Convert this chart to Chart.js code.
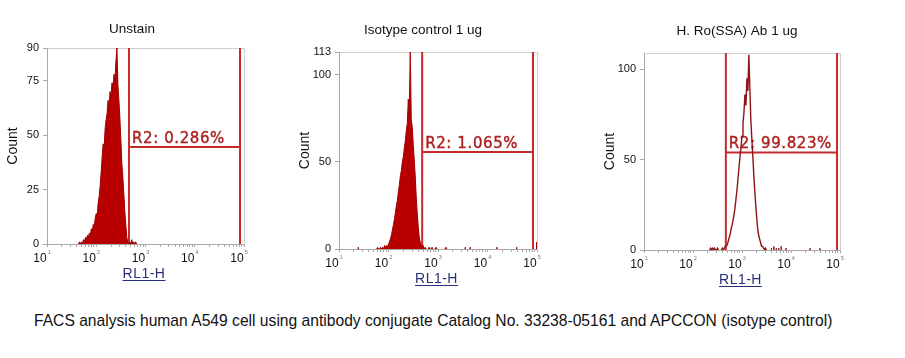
<!DOCTYPE html>
<html><head><meta charset="utf-8">
<script src="https://cdn.jsdelivr.net/npm/chart.js@4.4.0/dist/chart.umd.min.js"></script>
<style>
html,body{margin:0;padding:0;background:#fff;width:905px;height:358px;overflow:hidden;}
canvas{position:absolute;top:0;}
#cap{position:absolute;left:34px;top:311px;font:17px "Liberation Sans",Arial,sans-serif;line-height:20px;color:#111;white-space:nowrap;transform-origin:0 0;}
</style></head><body>
<canvas id="c1" width="270" height="300" style="left:0px"></canvas>
<canvas id="c2" width="270" height="300" style="left:292px"></canvas>
<canvas id="c3" width="270" height="300" style="left:597px"></canvas>
<div id="cap"></div>
<script>
// ---- data ----
const channels = [39.81,41.69,43.65,45.71,47.86,50.12,52.48,54.95,57.54,60.26,
 63.10,66.07,69.18,72.44,75.86,79.43,83.18,87.10,91.20,95.50,
 100,104.7,109.6,114.8,120.2,125.9,131.8,138.0,144.5,151.4,
 158.5,166.0,173.8,182.0,190.5,199.5,208.9,218.8,229.1,239.9,
 251.2,263.0,275.4,288.4,302.0,316.2,331.1,346.7,363.1,380.2,
 398.1,416.9,436.5,457.1,478.6,501.2,524.8,549.5,575.4,602.6,
 631.0,660.7,691.8,724.4,758.6,794.3,831.8,871.0,912.0,955.0,
 1000,1047,1096,1148,1202,1259,1318,1380,1445,1514,
 1585,1660,1738,1820,1905,1995,2089,2188,2291,2399,
 2512,2630,2754,2884,3020,3162];
const unstainCounts = [0,0,0,1,0,1,0,2,1,3,
 2,4,3,5,4,7,6,9,8,12,
 14,13,19,22,27,33,40,46,44,53,
 57,60,66,63,70,68,74,71,78,75,
 84,90,73,66,58,48,37,31,23,15,
 9,3,1,0,1,0,2,0,1,0,
 1,0,0,0,0,0,0,0,0,0,
 0,0,0,0,0,0,0,0,0,0,
 0,0,0,0,0,0,0,0,0,0,
 0,0,0,0,0,0];
const isotypeCounts = [0,0,0,0,0,0,0,0,0,1,
 0,0,1,0,1,0,2,1,2,1,
 3,4,6,8,11,14,17,21,25,28,
 33,37,42,45,50,53,58,62,68,72,
 86,78,113,74,70,60,51,42,30,21,
 13,7,4,2,1,2,0,1,0,0,
 0,1,0,0,1,0,0,0,1,0,
 0,0,0,0,0,0,0,0,1,0,
 0,0,0,0,0,0,0,0,0,0,
 0,0,0,0,0,0];
const roSsaCounts = [0,0,0,0,0,0,0,0,0,0,
 0,0,0,0,0,0,0,0,0,0,
 0,0,0,0,0,0,0,0,0,0,
 0,0,0,0,0,0,0,0,1,0,
 1,0,1,0,0,1,0,0,0,0,
 1,0,1,2,2,3,5,7,9,12,
 14,17,20,24,29,34,40,46,52,57,
 63,70,76,86,80,95,88,108,90,72,
 62,52,42,33,25,18,12,8,6,4,
 2,2,1,0,1,0];
const unstainEventX = [];
const unstainEventY = [];
const isotypeEventX = [24.5, 3550, 4470, 15500, 38900, 97700];
const isotypeEventY = [1, 1, 1, 1, 1, 4];
const roSsaEventX = [3980, 4470, 5010, 5620, 6310, 7940, 24500, 38900];
const roSsaEventY = [1, 2, 1, 1, 2, 1, 1, 1];

const panelTitles = ['Unstain', 'Isotype control 1 ug', 'H. Ro(SSA) Ab 1 ug'];
const gateLow = [462, 479, 468];
const gateHigh = [83000, 83000, 87000];
const gateLevel = [44.5, 55.6, 54];
const gateLabels = ['R2: 0.286%', 'R2: 1.065%', 'R2: 99.823%'];
const yMax = [90, 113, 109];
const yTicks1 = [0, 25, 50, 75, 90];
const yTicks2 = [0, 50, 100, 113];
const yTicks3 = [0, 50, 100];
const xMajorTicks = [10, 100, 1000, 10000, 100000];
const xTitle = 'RL1-H';
const yTitle = 'Count';
const caption = 'FACS analysis human A549 cell using antibody conjugate Catalog No. 33238-05161 and APCCON (isotype control)';

// ---- layout (canvas-relative) ----
const layouts = [
  {padTop: 48, padRight: 26, bottom: 244, titleX: 132, titleBase: 33},
  {padTop: 52, padRight: 25, bottom: 249, titleX: 131, titleBase: 34},
  {padTop: 53, padRight: 27, bottom: 250, titleX: 140, titleBase: 35}
];

const panelPlugin = {
  id: 'panelText',
  beforeDatasetsDraw(chart) {
    const o = chart.options.plugins.panelText;
    const ctx = chart.ctx, a = chart.chartArea;
    const xs = chart.scales.x, ys = chart.scales.y;
    ctx.save();
    ctx.strokeStyle = '#cfcfcf';
    ctx.lineWidth = 1;
    ctx.beginPath();
    ctx.moveTo(Math.round(a.left) + 0.5, Math.round(a.top) + 0.5);
    ctx.lineTo(Math.round(a.right) + 0.5, Math.round(a.top) + 0.5);
    ctx.lineTo(Math.round(a.right) + 0.5, Math.round(a.bottom) + 0.5);
    ctx.stroke();
    ctx.font = '15px "DejaVu Sans", Verdana, sans-serif';
    try { ctx.letterSpacing = '0.6px'; } catch (e) {}
    ctx.fillStyle = '#ad2020';
    ctx.strokeStyle = '#ad2020';
    ctx.lineWidth = 0.4;
    ctx.textAlign = 'left';
    ctx.textBaseline = 'alphabetic';
    const lx = xs.getPixelForValue(o.gateLo) + 3, ly = ys.getPixelForValue(o.gateY) - 4;
    ctx.fillText(o.label, lx, ly);
    ctx.strokeText(o.label, lx, ly);
    ctx.restore();
  },
  afterDraw(chart) {
    const o = chart.options.plugins.panelText;
    const ctx = chart.ctx, a = chart.chartArea;
    const xs = chart.scales.x;
    ctx.save();
    // title
    ctx.fillStyle = '#111';
    ctx.font = '13.5px "Liberation Sans", Arial, sans-serif';
    ctx.textAlign = 'center';
    ctx.textBaseline = 'alphabetic';
    ctx.fillText(o.title, o.titleX, o.titleBase);
    // y title
    ctx.save();
    ctx.translate(a.left - 34, (a.top + a.bottom) / 2);
    ctx.rotate(-Math.PI / 2);
    ctx.font = '14px "Liberation Sans", Arial, sans-serif';
    ctx.textAlign = 'center';
    ctx.textBaseline = 'middle';
    ctx.fillText(yTitle, 0, 0);
    ctx.restore();
    // x tick labels 10^n
    xMajorTicks.forEach((v, i) => {
      const px = xs.getPixelForValue(v);
      ctx.font = '12px "Liberation Sans", Arial, sans-serif';
      ctx.textAlign = 'right';
      ctx.fillStyle = '#111';
      ctx.fillText('10', px - 0.3, a.bottom + 18);
      ctx.font = '5.5px "Liberation Sans", Arial, sans-serif';
      ctx.textAlign = 'left';
      ctx.fillStyle = '#777';
      ctx.fillText(String(i + 1), px + 0.8, a.bottom + 9.5);
    });
    // x title underlined
    const cx = (a.left + a.right) / 2 - 1.5;
    ctx.font = '14px "Liberation Sans", Arial, sans-serif';
    try { ctx.letterSpacing = '0.5px'; } catch (e) {}
    ctx.fillStyle = '#29307a';
    ctx.textAlign = 'center';
    const base = a.bottom + 34;
    ctx.fillText(xTitle, cx, base);
    const w = ctx.measureText(xTitle).width;
    ctx.fillRect(cx - w / 2, base + 2, w, 1);
    ctx.restore();
  }
};

function histPoints(counts) {
  return channels.map((c, i) => ({x: c, y: counts[i]}));
}
function eventPoints(ex, ey) {
  const pts = [];
  ex.forEach((x, i) => { pts.push({x: x, y: 0}, {x: x, y: ey[i]}, {x: x, y: 0}); });
  return pts;
}
function gatePoints(i) {
  return [
    {x: gateLow[i], y: 0}, {x: gateLow[i], y: yMax[i]}, {x: gateLow[i], y: null},
    {x: gateHigh[i], y: 0}, {x: gateHigh[i], y: yMax[i]}, {x: gateHigh[i], y: null},
    {x: gateLow[i], y: gateLevel[i]}, {x: gateHigh[i], y: gateLevel[i]}
  ];
}
const hideBase = (color) => (c) => (c.p0.parsed.y === 0 && c.p1.parsed.y === 0) ? 'rgba(0,0,0,0)' : color;

function makeChart(id, i, counts, ex, ey, yTicks, filled) {
  const L = layouts[i];
  const lineColor = filled ? '#9e0000' : '#8e1414';
  new Chart(document.getElementById(id), {
    type: 'line',
    data: {
      datasets: [
        {data: histPoints(counts), borderColor: lineColor, borderWidth: filled ? 1 : 1.4,
         backgroundColor: filled ? '#b80000' : 'rgba(0,0,0,0)', fill: filled ? 'origin' : false,
         pointRadius: 0, tension: 0, order: 0, segment: {borderColor: hideBase(lineColor)}},
        {data: eventPoints(ex, ey), borderColor: lineColor, borderWidth: 1, fill: false,
         pointRadius: 0, tension: 0, order: 0, segment: {borderColor: hideBase(lineColor)}},
        {data: gatePoints(i), borderColor: '#c42c2c', borderWidth: 2, fill: false,
         pointRadius: 0, tension: 0, spanGaps: false, order: 2}
      ]
    },
    options: {
      responsive: false, animation: false, devicePixelRatio: 1,
      layout: {padding: {top: L.padTop, right: L.padRight, left: 0, bottom: 0}},
      plugins: {
        legend: {display: false}, tooltip: {enabled: false},
        panelText: {title: panelTitles[i], titleX: L.titleX, titleBase: L.titleBase,
          label: gateLabels[i], gateLo: gateLow[i], gateY: gateLevel[i]}
      },
      scales: {
        x: {
          type: 'logarithmic', min: 10, max: 100000,
          afterBuildTicks(scale) {
            const t = [];
            xMajorTicks.forEach(m => { for (let k = 1; k <= 9; k++) { const v = m * k; if (v <= 100000) t.push({value: v, major: k === 1}); } });
            scale.ticks = t;
          },
          afterFit(scale) { scale.height = 300 - L.bottom; },
          ticks: {autoSkip: false, maxRotation: 0, callback: () => ''},
          grid: {display: true, drawOnChartArea: false, tickLength: 3, color: '#a8a8a8'},
          border: {color: '#a8a8a8'}
        },
        y: {
          type: 'linear', min: 0, max: yMax[i],
          afterBuildTicks(scale) { scale.ticks = yTicks.map(v => ({value: v})); },
          afterFit(scale) { scale.width = 47; },
          ticks: {autoSkip: false, padding: 4, color: '#111', font: {family: '"Liberation Sans", Arial, sans-serif', size: 11}},
          grid: {display: true, drawOnChartArea: false, tickLength: 4, color: '#a8a8a8'},
          border: {color: '#a8a8a8'}
        }
      }
    },
    plugins: [panelPlugin]
  });
}

makeChart('c1', 0, unstainCounts, unstainEventX, unstainEventY, yTicks1, true);
makeChart('c2', 1, isotypeCounts, isotypeEventX, isotypeEventY, yTicks2, true);
makeChart('c3', 2, roSsaCounts, roSsaEventX, roSsaEventY, yTicks3, false);

const cap = document.getElementById('cap');
cap.textContent = caption;
const cw = cap.scrollWidth;
cap.style.transform = 'scaleX(' + (798 / cw) + ')';
</script>
</body></html>
